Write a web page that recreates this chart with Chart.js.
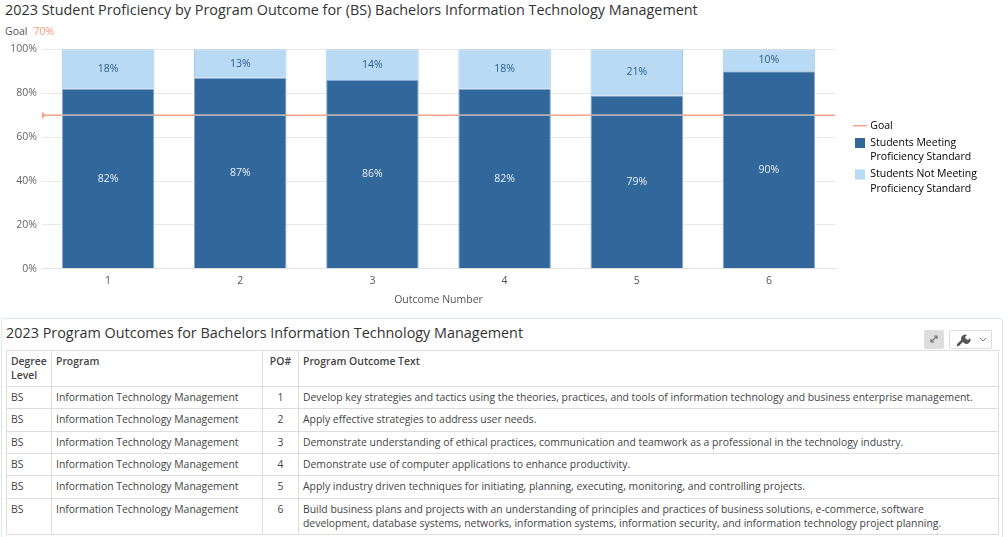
<!DOCTYPE html>
<html>
<head>
<meta charset="utf-8">
<script src="https://cdn.jsdelivr.net/npm/chart.js@4"></script>
<style>
  body { margin: 0; font-family: "Open Sans", sans-serif; color: #333; background: #fff; width: 1008px; height: 537px; overflow: hidden; position: relative; }
  #title { position: absolute; left: 5px; top: 0; font-size: 14.4px; color: #333; line-height: 20px; }
  #goal { position: absolute; left: 5px; top: 23px; font-size: 10.5px; color: #555; line-height: 16px; }
  #goal span { color: #f29b7d; margin-left: 6px; }
  #chartBox { position: absolute; left: 0; top: 38px; width: 1008px; height: 268px; }
  #panel { position: absolute; left: 1px; top: 318px; width: 1000px; height: 230px; border: 1px solid #dbe8f2; border-radius: 2px; }
  #panelTitle { position: absolute; left: 4px; top: 4px; font-size: 14.4px; color: #333; line-height: 20px; }
  #expand { position: absolute; left: 922px; top: 11px; width: 20px; height: 19px; background: #ddd; border-radius: 2px; }
  #tools { position: absolute; left: 947px; top: 11px; width: 43px; height: 19px; border: 1px solid #ddd; border-radius: 2px; box-sizing: border-box; }
  table { position: absolute; left: 4px; top: 31px; width: 993px; border-collapse: collapse; font-size: 10.4px; color: #444; }
  th, td { border: 1px solid #ddd; padding: 3px 4px; text-align: left; vertical-align: top; line-height: 14.4px; }
  th { font-weight: 600; color: #444; height: 27px; }
  td { height: 15.4px; }
  td.po, th.po { text-align: center; }
  td.txt { padding-right: 16px; }
</style>
</head>
<body>
<div id="title">2023 Student Proficiency by Program Outcome for (BS) Bachelors Information Technology Management</div>
<div id="goal">Goal<span>70%</span></div>
<div id="chartBox"><canvas id="myChart"></canvas></div>
<div id="panel">
  <div id="panelTitle">2023 Program Outcomes for Bachelors Information Technology Management</div>
  <div id="expand"><svg width="20" height="19"><path d="M7 12 L13 6 M10 6 L13 6 L13 9 M7 9 L7 12 L10 12" stroke="#777" stroke-width="1.2" fill="none"/></svg></div>
  <div id="tools"><svg width="43" height="17"><path d="M8 14 L13 9" stroke="#555" stroke-width="2.5" stroke-linecap="round"/><path d="M12 10 a4 4 0 0 1 5 -6 l-2 2 l1 2 l2 1 l2 -2 a4 4 0 0 1 -6 5 Z" fill="#555"/><path d="M30 7 L33 10 L36 7" stroke="#777" stroke-width="1" fill="none"/></svg></div>
  <table id="poTable"></table>
</div>
<script>
'use strict';

const outcomes = ['1', '2', '3', '4', '5', '6'];
const meeting = [82, 87, 86, 82, 79, 90];
const notMeeting = [18, 13, 14, 18, 21, 10];
const goal = 70;
const yTicks = [0, 20, 40, 60, 80, 100];

const degreeLevels = ['BS', 'BS', 'BS', 'BS', 'BS', 'BS'];
const programs = ['Information Technology Management', 'Information Technology Management', 'Information Technology Management',
  'Information Technology Management', 'Information Technology Management', 'Information Technology Management'];
const outcomeTexts = [
  'Develop key strategies and tactics using the theories, practices, and tools of information technology and business enterprise management.',
  'Apply effective strategies to address user needs.',
  'Demonstrate understanding of ethical practices, communication and teamwork as a professional in the technology industry.',
  'Demonstrate use of computer applications to enhance productivity.',
  'Apply industry driven techniques for initiating, planning, executing, monitoring, and controlling projects.',
  'Build business plans and projects with an understanding of principles and practices of business solutions, e-commerce, software development, database systems, networks, information systems, information security, and information technology project planning.',
];

// table
let rows = '<tr><th style="width:36px">Degree Level</th><th style="width:202px">Program</th><th class="po" style="width:27px">PO#</th><th>Program Outcome Text</th></tr>';
for (let i = 0; i < outcomes.length; i++) {
  rows += '<tr><td>' + degreeLevels[i] + '</td><td>' + programs[i] + '</td><td class="po">' + outcomes[i] + '</td><td class="txt">' + outcomeTexts[i] + '</td></tr>';
}
document.querySelector('#poTable').innerHTML = rows;

const salmon = '#f4a58b';
const smallFont = { family: 'Open Sans', size: 10.5 };

// goal line + small marker on the axis
const goalLine = {
  id: 'goalLine',
  afterDatasetsDraw(chart) {
    const ctx = chart.ctx;
    const area = chart.chartArea;
    const y = chart.scales.y.getPixelForValue(goal);
    ctx.save();
    ctx.lineWidth = 1.5;
    ctx.strokeStyle = salmon;
    ctx.beginPath();
    ctx.moveTo(area.left, y);
    ctx.lineTo(area.right, y);
    ctx.stroke();
    // grey where it crosses the bars
    ctx.strokeStyle = '#aab3bd';
    chart.getDatasetMeta(0).data.forEach((bar) => {
      const half = bar.width / 2;
      ctx.beginPath();
      ctx.moveTo(bar.x - half, y);
      ctx.lineTo(bar.x + half, y);
      ctx.stroke();
    });
    ctx.fillStyle = salmon;
    ctx.beginPath();
    ctx.moveTo(area.left, y - 3.5);
    ctx.lineTo(area.left + 4, y);
    ctx.lineTo(area.left, y + 3.5);
    ctx.closePath();
    ctx.fill();
    ctx.restore();
  },
};

// value labels in the middle of each segment
const segLabels = {
  id: 'segLabels',
  afterDatasetsDraw(chart) {
    const ctx = chart.ctx;
    ctx.save();
    ctx.font = '10.5px "Open Sans"';
    ctx.textAlign = 'center';
    ctx.textBaseline = 'middle';
    chart.data.datasets.forEach((ds, di) => {
      ctx.fillStyle = di === 0 ? '#e9f0f7' : '#2a5d8c';
      chart.getDatasetMeta(di).data.forEach((bar, i) => {
        const c = bar.getCenterPoint();
        ctx.fillText(ds.data[i] + '%', c.x, c.y);
      });
    });
    ctx.restore();
  },
};

// legend takes a fixed slot on the right, with a gap after the plot
const legendSlot = {
  id: 'legendSlot',
  beforeUpdate(chart) {
    const legend = chart.legend;
    if (!legend || legend._slotPatched) return;
    const fit = legend.fit;
    legend.fit = function () {
      fit.call(this);
      this.width = 173;
    };
    legend._slotPatched = true;
  },
  afterLayout(chart) {
    chart.legend.left += 17;
    chart.legend.right += 17;
  },
};

new Chart(document.querySelector('#myChart'), {
  type: 'bar',
  data: {
    labels: outcomes,
    datasets: [
      {
        label: ['Students Meeting', 'Proficiency Standard'],
        data: meeting,
        backgroundColor: '#31679a',
        borderColor: '#86aad0',
        borderWidth: 1,
        categoryPercentage: 0.7,
        barPercentage: 1,
      },
      {
        label: ['Students Not Meeting', 'Proficiency Standard'],
        data: notMeeting,
        backgroundColor: '#b8daf4',
        borderColor: '#a6c9e8',
        borderWidth: 1,
        categoryPercentage: 0.7,
        barPercentage: 1,
      },
    ],
  },
  plugins: [goalLine, segLabels, legendSlot],
  options: {
    responsive: true,
    maintainAspectRatio: false,
    animation: false,
    layout: { padding: { top: 4, right: 0, left: 0, bottom: 0 } },
    plugins: {
      tooltip: { enabled: false },
      legend: {
        position: 'right',
        fullSize: false,
        labels: {
          font: { family: 'Open Sans', size: 10.5, lineHeight: 1.35 },
          color: '#555',
          usePointStyle: true,
          boxWidth: 10,
          boxHeight: 10,
          padding: 3,
          generateLabels(chart) {
            const items = [{ text: ['Goal'], fillStyle: salmon, strokeStyle: salmon, lineWidth: 1.5, pointStyle: 'line', hidden: false, datasetIndex: -1 }];
            chart.data.datasets.forEach((ds, i) => {
              items.push({ text: ds.label, fillStyle: ds.backgroundColor, strokeStyle: ds.backgroundColor, lineWidth: 0, pointStyle: 'rect', hidden: false, datasetIndex: i });
            });
            return items;
          },
        },
      },
    },
    scales: {
      x: {
        stacked: true,
        grid: { display: false, drawTicks: false },
        border: { color: '#e3e3e3' },
        ticks: { font: smallFont, color: '#555', padding: 6 },
        title: { display: true, text: 'Outcome Number', font: smallFont, color: '#555', padding: { top: 0, bottom: 0 } },
      },
      y: {
        stacked: true,
        min: 0,
        max: 100,
        afterBuildTicks(scale) {
          scale.ticks = yTicks.map((v) => ({ value: v }));
        },
        afterFit(scale) {
          scale.width = 42;
        },
        grid: { color: '#e8e8e8', drawTicks: false },
        border: { display: false },
        ticks: {
          font: smallFont,
          color: '#666',
          padding: 5,
          callback: (v) => v + '%',
        },
      },
    },
  },
});
</script>
</body>
</html>
